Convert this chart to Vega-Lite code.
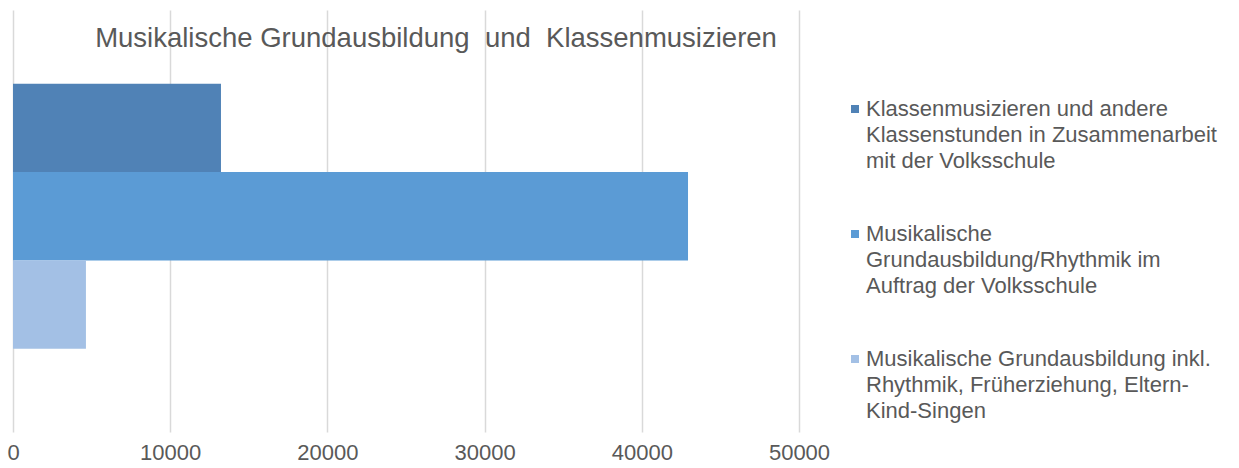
{
  "$schema": "https://vega.github.io/schema/vega-lite/v6.json",
  "width": 786,
  "height": 422,
  "autosize": {"type": "none"},
  "padding": {"left": 13, "top": 10, "right": 440, "bottom": 36},
  "background": "white",
  "config": {"view": {"stroke": null}},
  "title": {
    "text": "Musikalische Grundausbildung\u00a0 und\u00a0 Klassenmusizieren",
    "fontSize": 27.5,
    "font": "Liberation Sans",
    "fontWeight": "normal",
    "color": "#595959",
    "anchor": "middle",
    "frame": "group",
    "dx": 30,
    "offset": -42
  },
  "data": {
    "values": [
      {"gruppe": "Gesamt", "kategorie": "Klassenmusizieren und andere Klassenstunden in Zusammenarbeit mit der Volksschule", "wert": 13230},
      {"gruppe": "Gesamt", "kategorie": "Musikalische Grundausbildung/Rhythmik im Auftrag der Volksschule", "wert": 42940},
      {"gruppe": "Gesamt", "kategorie": "Musikalische Grundausbildung inkl. Rhythmik, Früherziehung, Eltern-Kind-Singen", "wert": 4640}
    ]
  },
  "mark": {"type": "bar"},
  "encoding": {
    "y": {
      "field": "gruppe",
      "type": "nominal",
      "axis": null,
      "scale": {"paddingInner": 0, "paddingOuter": 0.296, "align": 0.47}
    },
    "yOffset": {
      "field": "kategorie",
      "type": "nominal",
      "sort": [
        "Klassenmusizieren und andere Klassenstunden in Zusammenarbeit mit der Volksschule",
        "Musikalische Grundausbildung/Rhythmik im Auftrag der Volksschule",
        "Musikalische Grundausbildung inkl. Rhythmik, Früherziehung, Eltern-Kind-Singen"
      ],
      "scale": {"paddingInner": 0, "paddingOuter": 0}
    },
    "x": {
      "field": "wert",
      "type": "quantitative",
      "scale": {"domain": [0, 50000], "nice": false},
      "axis": {
        "title": null,
        "values": [0, 10000, 20000, 30000, 40000, 50000],
        "format": "d",
        "grid": true,
        "gridColor": "#d9d9d9",
        "gridWidth": 1.5,
        "domain": false,
        "ticks": false,
        "labelFlush": false,
        "labelFont": "Liberation Sans",
        "labelFontSize": 22,
        "labelColor": "#595959",
        "labelPadding": 10
      }
    },
    "color": {
      "field": "kategorie",
      "type": "nominal",
      "scale": {
        "domain": [
          "Klassenmusizieren und andere Klassenstunden in Zusammenarbeit mit der Volksschule",
          "Musikalische Grundausbildung/Rhythmik im Auftrag der Volksschule",
          "Musikalische Grundausbildung inkl. Rhythmik, Früherziehung, Eltern-Kind-Singen"
        ],
        "range": ["#5082b6", "#5b9bd5", "#a3c0e5"]
      },
      "legend": {
        "title": null,
        "orient": "none",
        "legendX": 831,
        "legendY": 88,
        "padding": 0,
        "symbolType": "square",
        "symbolSize": 64,
        "symbolStrokeWidth": 0,
        "labelFont": "Liberation Sans",
        "labelFontSize": 22,
        "labelColor": "#595959",
        "labelOffset": 0,
        "labelLimit": 500,
        "rowPadding": 51,
        "labelExpr": "indexof(datum.label, 'Klassenmusizieren') == 0 ? ['\u00a0Klassenmusizieren und andere', 'Klassenstunden in Zusammenarbeit', 'mit der Volksschule'] : indexof(datum.label, 'inkl.') > 0 ? ['\u00a0Musikalische Grundausbildung inkl.', 'Rhythmik, Früherziehung, Eltern-', 'Kind-Singen'] : ['\u00a0Musikalische', 'Grundausbildung/Rhythmik im', 'Auftrag der Volksschule']",
        "encode": {
          "labels": {"update": {"lineHeight": {"value": 26}}}
        }
      }
    }
  }
}
